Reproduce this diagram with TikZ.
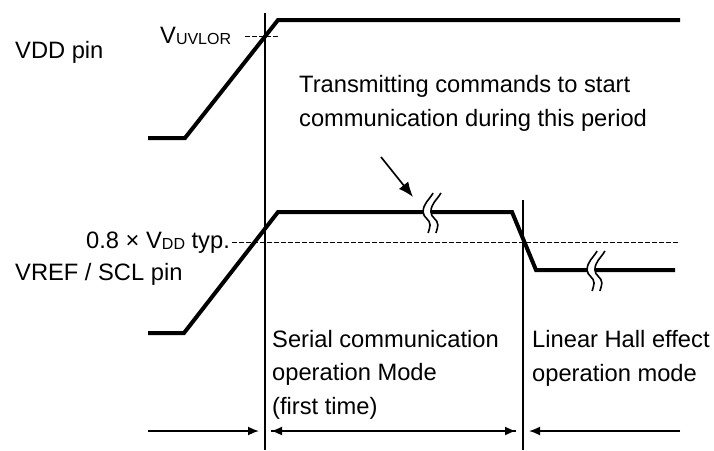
\documentclass[tikz,border=0pt]{standalone}
\usepackage{fontspec}
\setmainfont{Liberation Sans}
\usetikzlibrary{arrows.meta}
\newcommand{\lowidx}[1]{\raisebox{-1.2pt}{\fontsize{16}{16}\selectfont #1}}
\tikzset{
  signal/.style = {line width=4pt, line join=miter},
  marker/.style = {line width=1.1pt},
  level/.style  = {line width=1pt, dash pattern=on 4.5pt off 2.5pt},
  span/.style   = {line width=1.7pt},
  tip/.style    = {-{Latex[length=11pt, width=9pt]}},
  txt/.style    = {anchor=base west, inner sep=0pt, align=left,
                   font=\fontsize{23.7}{33.5}\selectfont},
  brk/.pic      = {
    \draw[white, line width=7.5pt] (6,-19) to[out=-120,in=90] (-4,0)
      to[out=-90,in=90] (3,13) to[out=-90,in=80] (1,21);
    \foreach \s in {-3.9,3.9}
      \draw[line width=1.6pt, xshift=\s] (6,-19) to[out=-120,in=90] (-4,0)
        to[out=-90,in=90] (3,13) to[out=-90,in=80] (1,21);
  }
}
\begin{document}
\begin{tikzpicture}[x=1pt, y=-1pt]
  \useasboundingbox (0,0) rectangle (714,450);

  % mode boundaries
  \coordinate (m1t) at (265,13);
  \coordinate (m1b) at (265,450);
  \coordinate (m2t) at (523,200);
  \coordinate (m2b) at (523,450);
  \draw[marker] (m1t) -- (m1b);
  \draw[marker] (m2t) -- (m2b);

  % thresholds
  \coordinate (uvA) at (245,36);
  \coordinate (uvB) at (280,36);
  \coordinate (thA) at (232,242);
  \coordinate (thB) at (680,242);
  \draw[level] (uvA) -- (uvB);
  \draw[level] (thA) -- (thB);

  % VDD pin
  \draw[signal] (148,138) -- (185,138) -- (278,20) -- (680,20);

  % VREF / SCL pin
  \draw[signal] (148,333) -- (184,333) -- (278,212) -- (512,212)
                -- (536,270) -- (675,270);
  \pic at (431,212) {brk};
  \pic at (595,270) {brk};

  % labels
  \node[txt] (vddpin)  at (15,58)  {VDD pin};
  \node[txt] (uvlor)   at (160,43) {V\lowidx{UVLOR}};
  \node[txt] (thr)     at (86,248) {0.8 × V\lowidx{DD} typ.};
  \node[txt] (vrefpin) at (15,280) {VREF / SCL pin};
  \node[txt] (note)    at (299,126) {Transmitting commands to start\\communication during this period};
  \node[txt] (serial)  at (272,414) {Serial communication\\operation Mode\\(first time)};
  \node[txt] (linear)  at (532,381) {Linear Hall effect\\operation mode};

  % pointer to the break
  \coordinate (pA) at (381,157);
  \coordinate (pB) at (413,197);
  \draw[span, -{Latex[length=15pt, width=12pt]}] (pA) -- (pB);

  % mode spans
  \coordinate (s0) at (148,431);
  \coordinate (s1) at (259,431);
  \coordinate (s2) at (271,431);
  \coordinate (s3) at (516,431);
  \coordinate (s4) at (529,431);
  \coordinate (s5) at (680,431);
  \draw[span, tip] (s0) -- (s1);
  \draw[span, tip] (s2) -- (s3);
  \draw[span, tip] (s3) -- (s2);
  \draw[span, tip] (s5) -- (s4);
\end{tikzpicture}
\end{document}
